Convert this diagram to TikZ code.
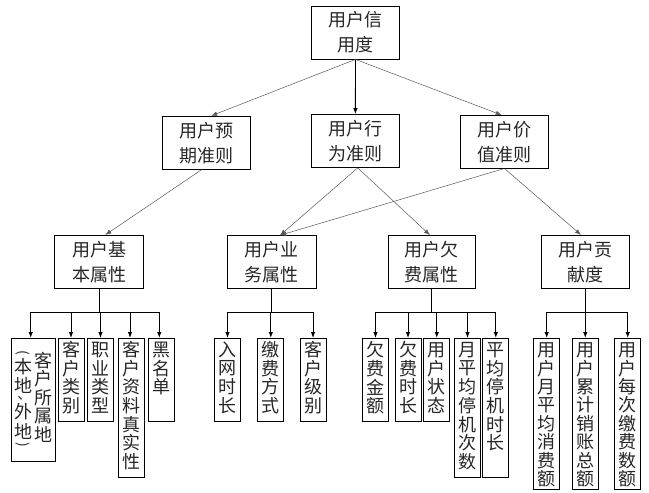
\documentclass[tikz,border=0pt]{standalone}
\usepackage{fontspec}
\usepackage{graphicx}
\newfontfamily\cjk{Noto Sans CJK SC}
\usetikzlibrary{arrows.meta}
\newdimen\vpitch \vpitch=18.6pt
\newdimen\vfirst \vfirst=11.5pt
\newcommand\vcell[1]{\vbox to 0pt{\vss\hbox to 18pt{\hss#1\hss}\vss}}
\def\vcolloop#1{\ifx#1\relax\else\vskip\vpitch\relax\vcell{#1}\expandafter\vcolloop\fi}
\newcommand\vcol[1]{\vtop{\null\offinterlineskip\vskip\dimexpr\vfirst-\vpitch\relax\vcolloop#1\relax}}
\newcommand\leaftext[2]{\vbox to #1{\hbox{#2}\vss}}
\newcommand\smallmark[1]{{\fontsize{14}{14}\selectfont#1}}
\tikzset{
  lvl/.style={draw, line width=0.8pt, minimum width=88pt, minimum height=53pt, inner sep=0pt,
    align=center, text=black!85, font=\cjk\fontsize{18}{25}\selectfont},
  leaf/.style={draw, line width=0.8pt, anchor=north, inner xsep=4pt, inner ysep=0pt,
    minimum width=26pt, text=black!85, font=\cjk\fontsize{18}{18.6}\selectfont},
  thin/.style={line width=0.5pt, draw=black!65, -{Latex[length=6pt,width=4.5pt]}},
  thick/.style={line width=0.9pt, draw=black, -{Latex[length=6pt,width=4.5pt]}},
  bus/.style={line width=0.9pt, draw=black},
  busarrow/.style={line width=0.9pt, draw=black, -{Latex[length=6pt,width=4.5pt]}}
}
\begin{document}
\begin{tikzpicture}[x=1pt, y=-1pt]
\useasboundingbox (0,0) rectangle (649,493);
% top levels
\node[lvl] (T) at (355.5,32.5) {用户信\\用度};
\node[lvl] (P1) at (206.2,142.7) {用户预\\期准则};
\node[lvl] (P2) at (355.4,141) {用户行\\为准则};
\node[lvl] (P3) at (504.3,142) {用户价\\值准则};
\node[lvl, minimum width=89pt] (L1) at (99,261.8) {用户基\\本属性};
\node[lvl, minimum width=89pt] (L2) at (271.8,262.2) {用户业\\务属性};
\node[lvl, minimum width=87pt] (L3) at (431.7,262) {用户欠\\费属性};
\node[lvl] (L4) at (585.3,261.8) {用户贡\\献度};
% edges between levels
\draw[thin] (T.south) -- ([xshift=5pt]P1.north);
\draw[thick] (T.south) -- (P2.north);
\draw[thin] (T.south) -- ([xshift=-2.6pt]P3.north);
\draw[thin] ([xshift=-4.5pt]P1.south) -- ([xshift=6.3pt]L1.north);
\draw[thin] ([xshift=2.3pt]P2.south) -- ([xshift=8.2pt]L2.north);
\draw[thin] ([xshift=2.3pt]P2.south) -- ([xshift=-1.7pt]L3.north);
\draw[thin] ([xshift=-1.3pt]P3.south) -- ([xshift=8.2pt]L2.north);
\draw[thin] ([xshift=0.7pt]P3.south) -- ([xshift=-4.3pt]L4.north);
% leaves group 1
\node[leaf, inner xsep=2.5pt] (a1) at (33.5,338) {\leaftext{122.5pt}{%
  \vtop{\null\offinterlineskip
    \vskip15pt\vcell{\smallmark{\rotatebox[origin=c]{-90}{(}}}%
    \vskip13.5pt\vcell{本}%
    \vskip18.5pt\vcell{地}%
    \vskip13pt\vcell{\smallmark{\kern2pt 、}}%
    \vskip13.5pt\vcell{外}%
    \vskip19.5pt\vcell{地}%
    \vskip14pt\vcell{\smallmark{\rotatebox[origin=c]{-90}{)}}}}%
  \kern2.5pt{\vfirst=22pt\vpitch=18.5pt\vcol{客户所属地}}}};
\node[leaf] (a2) at (71,338) {\leaftext{83pt}{\vcol{客户类别}}};
\node[leaf] (a3) at (100.5,338) {\leaftext{83pt}{\vcol{职业类型}}};
\node[leaf] (a4) at (131,338) {\leaftext{138.5pt}{\vcol{客户资料真实性}}};
\node[leaf] (a5) at (161,338) {\leaftext{82.5pt}{\vcol{黑名单}}};
% group 2
\node[leaf] (b1) at (227.5,338) {\leaftext{82.5pt}{\vcol{入网时长}}};
\node[leaf] (b2) at (270.8,338) {\leaftext{82.5pt}{\vcol{缴费方式}}};
\node[leaf] (b3) at (313,338) {\leaftext{82.5pt}{\vcol{客户级别}}};
% group 3
\node[leaf] (c1) at (375.5,338) {\leaftext{82.5pt}{\vcol{欠费金额}}};
\node[leaf] (c2) at (408,338) {\leaftext{82.5pt}{\vcol{欠费时长}}};
\node[leaf] (c3) at (436.8,338) {\leaftext{82.5pt}{\vcol{用户状态}}};
\node[leaf] (c4) at (467.5,338) {\leaftext{138.5pt}{\vcol{月平均停机次数}}};
\node[leaf] (c5) at (495.8,338) {\leaftext{138.5pt}{\vcol{平均停机时长}}};
% group 4
\node[leaf] (d1) at (546.7,338) {\leaftext{151pt}{\vpitch=18.4pt\vcol{用户月平均消费额}}};
\node[leaf] (d2) at (585.3,338) {\leaftext{151pt}{\vpitch=18.4pt\vcol{用户累计销账总额}}};
\node[leaf] (d3) at (627.7,338) {\leaftext{151pt}{\vpitch=18.4pt\vcol{用户每次缴费数额}}};
% buses
\coordinate (busy) at (0,312.7);
\draw[bus] (L1.south) -- (L1.south |- busy) coordinate (k1);
\draw[bus] (L2.south) -- (L2.south |- busy) coordinate (k2);
\draw[bus] (L3.south) -- (L3.south |- busy) coordinate (k3);
\draw[bus] (L4.south) -- (L4.south |- busy) coordinate (k4);
\draw[busarrow] (k1) -| ([xshift=-2.8pt]a1.north);
\draw[busarrow] (k1) -| (a2.north);
\draw[busarrow] (k1) -| (a3.north);
\draw[busarrow] (k1) -| ([xshift=-1pt]a4.north);
\draw[busarrow] (k1) -| ([xshift=-1.7pt]a5.north);
\draw[busarrow] (k2) -| (b1.north);
\draw[busarrow] (k2) -| (b2.north);
\draw[busarrow] (k2) -| (b3.north);
\draw[busarrow] (k3) -| (c1.north);
\draw[busarrow] (k3) -| (c2.north);
\draw[busarrow] (k3) -| (c3.north);
\draw[busarrow] (k3) -| (c4.north);
\draw[busarrow] (k3) -| (c5.north);
\draw[busarrow] (k4) -| (d1.north);
\draw[busarrow] (k4) -| (d2.north);
\draw[busarrow] (k4) -| (d3.north);
\end{tikzpicture}
\end{document}
